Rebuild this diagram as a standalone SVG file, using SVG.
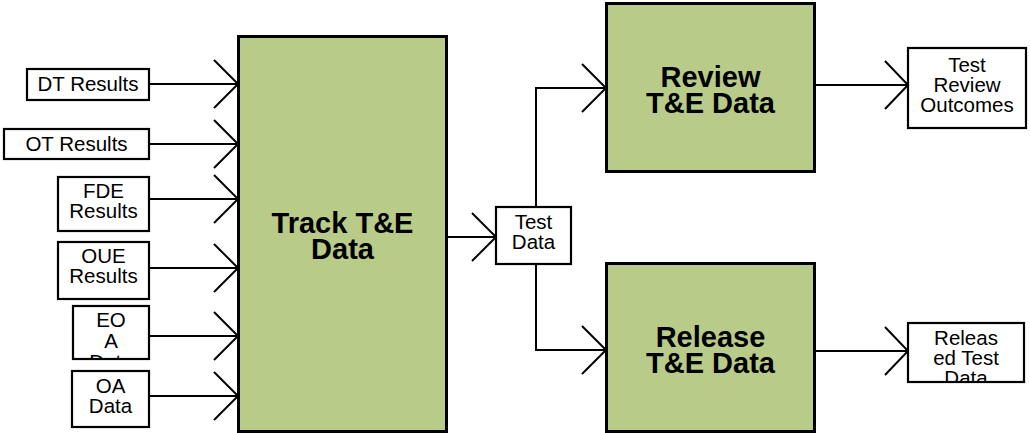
<svg xmlns="http://www.w3.org/2000/svg" width="1030" height="433" viewBox="0 0 1030 433">
<style>
.box{fill:#ffffff;stroke:#000;stroke-width:2.2}
.proc{fill:#B8CB88;stroke:#000;stroke-width:3}
.lbl{font-family:"Liberation Sans",Arial,sans-serif;font-size:20.5px;fill:#000;text-anchor:middle}
.big{font-family:"Liberation Sans",Arial,sans-serif;font-size:29px;font-weight:bold;fill:#000;text-anchor:middle}
.ln{fill:none;stroke:#000;stroke-width:2}
</style>
<defs>
<clipPath id="cEOA"><rect x="74" y="307" width="74" height="51"/></clipPath>
<clipPath id="cRel"><rect x="909" y="324" width="114" height="57"/></clipPath>
</defs>
<rect width="1030" height="433" fill="#fff"/>
<g id="connectors">
<path class="ln" d="M149 84H238M214 60L238 84L214 108"/>
<path class="ln" d="M149 144H238M214 120L238 144L214 168"/>
<path class="ln" d="M149 199H238M214 175L238 199L214 223"/>
<path class="ln" d="M149 268H238M214 244L238 268L214 292"/>
<path class="ln" d="M149 336H238M214 312L238 336L214 360"/>
<path class="ln" d="M149 396H238M214 372L238 396L214 420"/>
<path class="ln" d="M446 237H496M472 213L496 237L472 261"/>
<path class="ln" d="M536 207V88H606M582 64L606 88L582 112"/>
<path class="ln" d="M536 264V350H606M582 326L606 350L582 374"/>
<path class="ln" d="M815 85H908M885 61L908 85L885 109"/>
<path class="ln" d="M815 351H908M885 327L908 351L885 375"/>
</g>
<g id="dt"><rect class="box" x="27" y="69" width="122" height="31"/><text class="lbl" x="88" y="91">DT Results</text></g>
<g id="ot"><rect class="box" x="4" y="129" width="145" height="30"/><text class="lbl" x="76.5" y="151">OT Results</text></g>
<g id="fde"><rect class="box" x="58" y="177" width="91" height="54"/><text class="lbl" x="103.5" y="198">FDE</text><text class="lbl" x="103.5" y="218">Results</text></g>
<g id="oue"><rect class="box" x="58" y="242" width="91" height="57"/><text class="lbl" x="103.5" y="263">OUE</text><text class="lbl" x="103.5" y="283">Results</text></g>
<g id="eoa"><rect class="box" x="73" y="306" width="76" height="53"/><g clip-path="url(#cEOA)"><text class="lbl" x="111" y="327">EO</text><text class="lbl" x="111" y="348">A</text><text class="lbl" x="111" y="369">Data</text></g></g>
<g id="oa"><rect class="box" x="72" y="371" width="77" height="56"/><text class="lbl" x="110.5" y="393">OA</text><text class="lbl" x="110.5" y="413">Data</text></g>
<g id="track"><rect class="proc" x="238.5" y="36.5" width="208" height="395"/><text class="big" x="342.5" y="233">Track T&amp;E</text><text class="big" x="342.5" y="259">Data</text></g>
<g id="testdata"><rect class="box" x="496" y="207" width="75" height="57"/><text class="lbl" x="533.5" y="229">Test</text><text class="lbl" x="533.5" y="249">Data</text></g>
<g id="review"><rect class="proc" x="606.5" y="3.5" width="208" height="168"/><text class="big" x="710.5" y="87">Review</text><text class="big" x="710.5" y="113">T&amp;E Data</text></g>
<g id="release"><rect class="proc" x="606.5" y="263.5" width="208" height="168"/><text class="big" x="710.5" y="347">Release</text><text class="big" x="710.5" y="373">T&amp;E Data</text></g>
<g id="outcomes"><rect class="box" x="908" y="48" width="118" height="80"/><text class="lbl" x="967" y="72">Test</text><text class="lbl" x="967" y="92">Review</text><text class="lbl" x="967" y="112">Outcomes</text></g>
<g id="released"><rect class="box" x="908" y="323" width="116" height="59"/><g clip-path="url(#cRel)"><text class="lbl" x="966" y="345">Releas</text><text class="lbl" x="966" y="365">ed Test</text><text class="lbl" x="966" y="385">Data</text></g></g>
</svg>
